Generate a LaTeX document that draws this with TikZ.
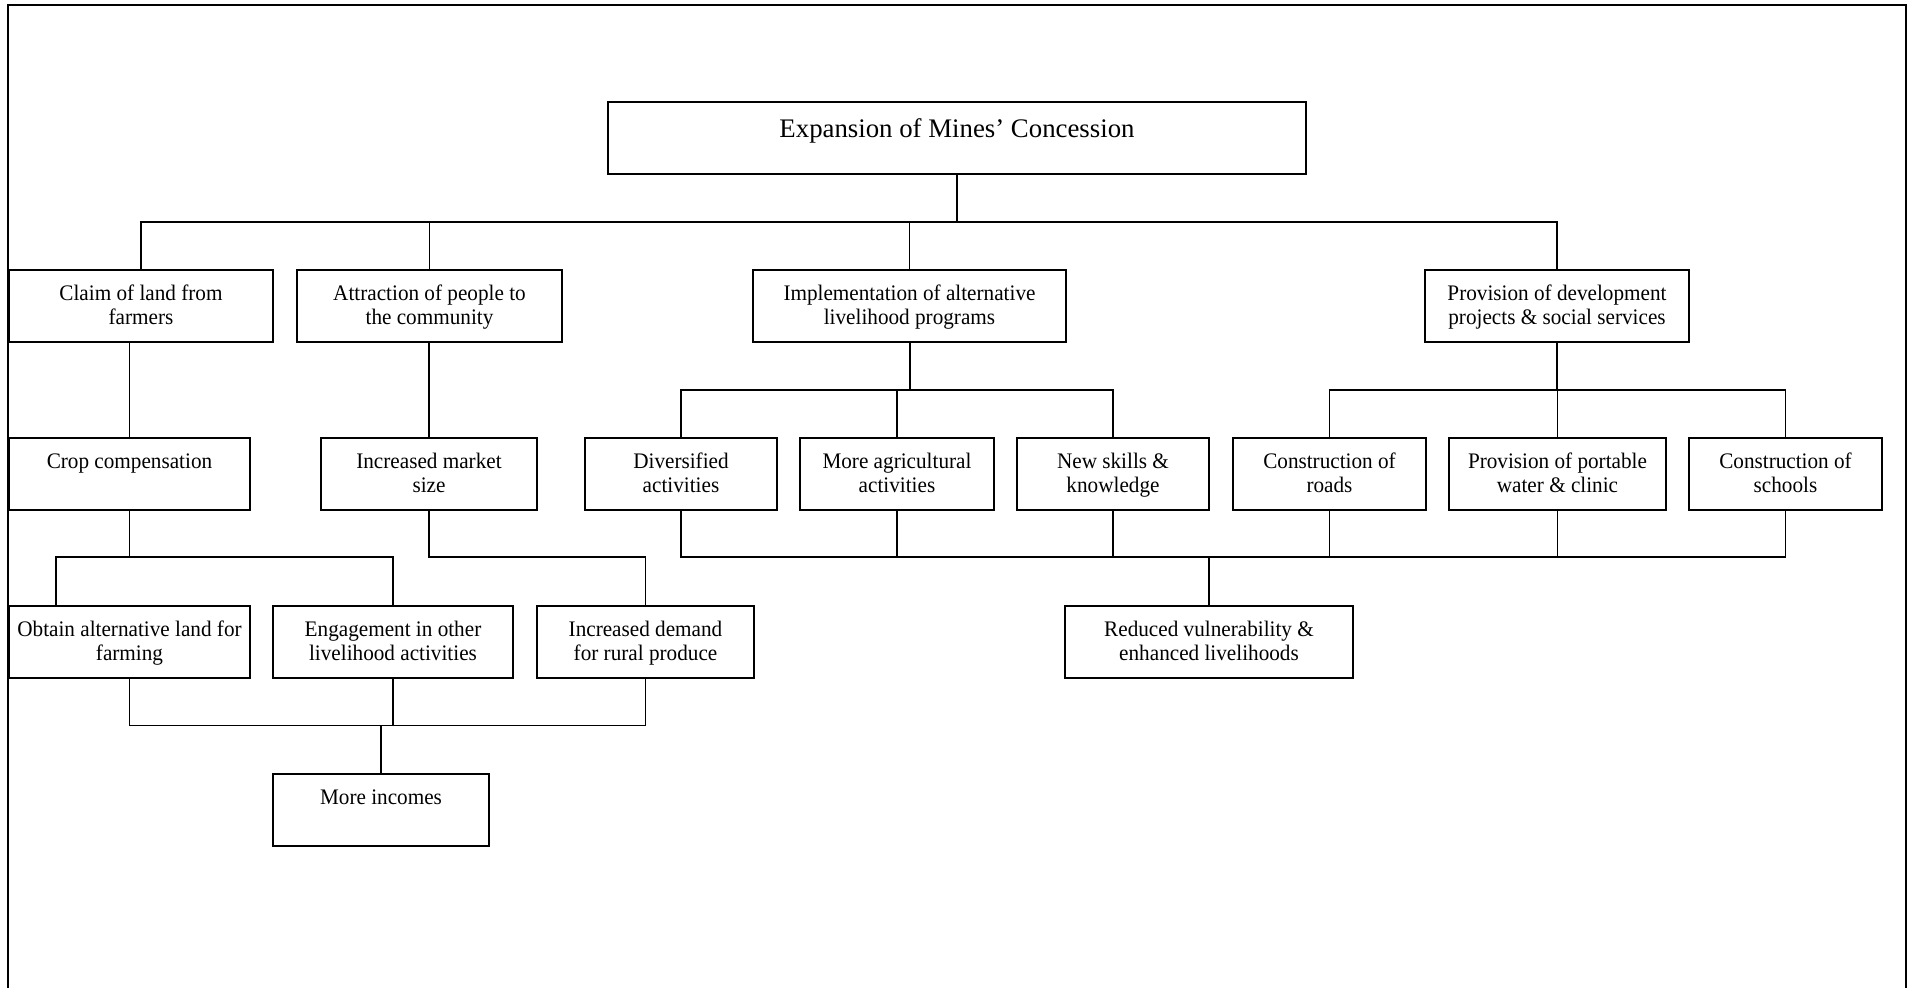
\documentclass[tikz,border=0pt]{standalone}
\usepackage{fontspec}
\setmainfont{Liberation Serif}[FakeStretch=0.955]
\newfontfamily\titlefont{Liberation Serif}
% strut that fixes the baseline positions of the two text lines in each box
\newcommand\bstrut{\rule[-2.5pt]{0pt}{11.85pt}}
\begin{document}
\begin{tikzpicture}[x=0.5pt,y=-0.5pt,
  bx/.style={draw, line width=1pt, inner sep=0pt, minimum height=36pt,
    align=center, font=\fontsize{11.1}{12.15}\selectfont},
  wd/.style={minimum width=#1*0.5pt},
  conn/.style={line width=0.8pt},
  heavy/.style={line width=1pt},
  outerframe/.style={line width=1pt}]
\useasboundingbox (0,0) rectangle (1912,988);

% outer frame (open at the bottom)
\draw[outerframe] (8,988) -- (8,5) -- (1905.7,5) -- (1905.7,988);

% bus levels
\coordinate (busA) at (0,222);
\coordinate (busB) at (0,390);
\coordinate (busC) at (0,557);
\coordinate (busD) at (0,725.6);

% root
\node[draw, line width=1pt, inner sep=0pt, minimum height=36pt, minimum width=349pt,
  text height=5pt, text depth=5pt, font=\titlefont\fontsize{13.4}{16}\selectfont]
  (top) at (957,138) {Expansion of Mines’ Concession};

% first level
\node[bx,wd=264] (claim)   at (141,306)    {\bstrut Claim of land from\\\bstrut farmers};
\node[bx,wd=265] (attract) at (429.5,306)  {\bstrut Attraction of people to\\\bstrut the community};
\node[bx,wd=313] (impl)    at (909.5,306)  {\bstrut Implementation of alternative\\\bstrut livelihood programs};
\node[bx,wd=264] (provdev) at (1557,306)   {\bstrut Provision of development\\\bstrut projects \& social services};

% second level
\node[bx,wd=241] (crop)     at (129.5,474)  {\bstrut Crop compensation\\\bstrut};
\node[bx,wd=216] (market)   at (429,474)    {\bstrut Increased market\\\bstrut size};
\node[bx,wd=192] (divers)   at (681,474)    {\bstrut Diversified\\\bstrut activities};
\node[bx,wd=194] (moreagri) at (897,474)    {\bstrut More agricultural\\\bstrut activities};
\node[bx,wd=192] (skills)   at (1113,474)   {\bstrut New skills \&\\\bstrut knowledge};
\node[bx,wd=193] (roads)    at (1329.5,474) {\bstrut Construction of\\\bstrut roads};
\node[bx,wd=217] (water)    at (1557.5,474) {\bstrut Provision of portable\\\bstrut water \& clinic};
\node[bx,wd=193] (schools)  at (1785.5,474) {\bstrut Construction of\\\bstrut schools};

% third level
\node[bx,wd=241] (obtain)  at (129.5,642) {\bstrut Obtain alternative land for\\\bstrut farming};
\node[bx,wd=240] (engage)  at (393,642)   {\bstrut Engagement in other\\\bstrut livelihood activities};
\node[bx,wd=217] (demand)  at (645.5,642) {\bstrut Increased demand\\\bstrut for rural produce};
\node[bx,wd=288] (reduced) at (1209,642)  {\bstrut Reduced vulnerability \&\\\bstrut enhanced livelihoods};

% fourth level
\node[bx,wd=216] (incomes) at (381,810) {\bstrut More incomes\\\bstrut};

% root to first level
\draw[heavy] (top.south) -- (top.south |- busA);
\draw[conn] (claim.north) -- (claim.north |- busA) -- (provdev.north |- busA) -- (provdev.north);
\draw[conn] (attract.north) -- (attract.north |- busA);
\draw[conn] (impl.north) -- (impl.north |- busA);

% first to second level
\draw[conn] (claim.south -| crop.north) -- (crop.north);
\draw[conn] (attract.south -| market.north) -- (market.north);
\draw[heavy] (impl.south) -- (impl.south |- busB);
\draw[conn] (divers.north) -- (divers.north |- busB) -- (skills.north |- busB) -- (skills.north);
\draw[conn] (moreagri.north) -- (moreagri.north |- busB);
\draw[heavy] (provdev.south) -- (provdev.south |- busB);
\draw[conn] (roads.north) -- (roads.north |- busB) -- (schools.north |- busB) -- (schools.north);
\draw[conn] (water.north) -- (water.north |- busB);

% second to third level
\draw[conn] (crop.south) -- (crop.south |- busC);
\draw[conn] ([xshift=24pt]obtain.north west) |- (engage.north |- busC) -- (engage.north);
\draw[conn] (market.south) |- (demand.north |- busC) -- (demand.north);
\draw[conn] (divers.south) |- (schools.south |- busC) -- (schools.south);
\draw[conn] (moreagri.south) -- (moreagri.south |- busC);
\draw[conn] (skills.south) -- (skills.south |- busC);
\draw[conn] (roads.south) -- (roads.south |- busC);
\draw[conn] (water.south) -- (water.south |- busC);
\draw[heavy] (reduced.north |- busC) -- (reduced.north);

% third to fourth level
\draw[conn] (obtain.south) |- (demand.south |- busD) -- (demand.south);
\draw[conn] (engage.south) -- (engage.south |- busD);
\draw[heavy] (incomes.north |- busD) -- (incomes.north);
\end{tikzpicture}
\end{document}
